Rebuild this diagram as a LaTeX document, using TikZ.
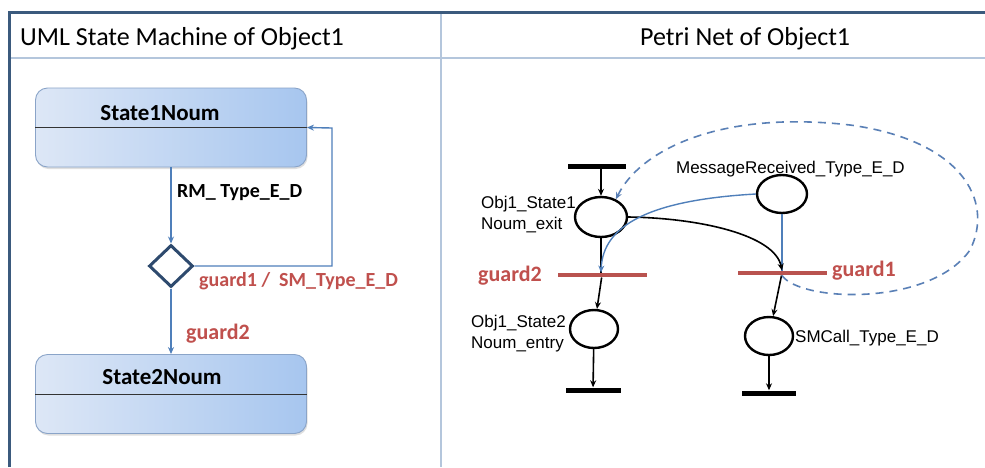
\documentclass[tikz,border=0pt]{standalone}
\usepackage{fontspec}
\setmainfont{Carlito}
\newfontfamily\arialf{Liberation Sans}
\usetikzlibrary{arrows.meta,shapes.geometric,shadows}
\definecolor{tblblue}{HTML}{3B5A7D}
\definecolor{tblgrid}{HTML}{B4C6DC}
\definecolor{boxleft}{HTML}{DDE7F6}
\definecolor{boxright}{HTML}{A7C6EF}
\definecolor{boxborder}{HTML}{8AA4C8}
\definecolor{umlblue}{HTML}{4F7FBA}
\definecolor{diadark}{HTML}{2E4A6E}
\definecolor{guardred}{HTML}{C0504D}
\definecolor{barred}{HTML}{B9534F}
\definecolor{dashblue}{HTML}{5A80B6}
\begin{document}
\begin{tikzpicture}[x=1pt,y=-1pt,
  title/.style={font=\fontsize{26}{30}\selectfont, inner sep=0pt},
  statebox/.style={draw=boxborder, line width=0.9pt, rounded corners=12pt,
    minimum width=271pt, minimum height=79pt, inner sep=0pt,
    left color=boxleft, right color=boxright,
    drop shadow={opacity=0.25, shadow xshift=1pt, shadow yshift=-2pt}},
  statename/.style={font=\bfseries\fontsize{23}{27}\selectfont, inner sep=0pt, anchor=base},
  umlarrow/.style={draw=umlblue, line width=1.4pt, -{Stealth[length=7pt,width=6pt]}},
  umlline/.style={draw=umlblue, line width=1.4pt},
  evlabel/.style={font=\bfseries\fontsize{20}{24}\selectfont, inner sep=0pt, anchor=base west},
  redlabel/.style={font=\bfseries\fontsize{22}{26}\selectfont, text=guardred, inner sep=0pt, anchor=base west},
  place/.style={draw=black, line width=2.4pt, ellipse, inner sep=0pt, fill=white},
  blackbar/.style={fill=black, inner sep=0pt, minimum height=5pt},
  redbar/.style={fill=barred, inner sep=0pt, minimum height=4.5pt},
  pnlabel/.style={font=\arialf\fontsize{17}{21}\selectfont, inner sep=0pt},
  pnarrow/.style={draw=black, line width=1.6pt, -{Stealth[length=7pt,width=6pt]}},
  pnline/.style={draw=black, line width=1.6pt},
  bluearrow/.style={draw=umlblue, line width=1.4pt, -{Stealth[length=7pt,width=6pt]}},
  blueline/.style={draw=umlblue, line width=1.4pt},
  dashloop/.style={draw=dashblue, line width=1.6pt, dash pattern=on 8pt off 6pt, -{Stealth[length=7pt,width=6pt]}}
]
\useasboundingbox (0,0) rectangle (985,467);
\fill[white] (0,0) rectangle (985,467);

% table
\draw[tblgrid, line width=1.2pt] (9,58) -- (985,58);
\draw[tblgrid, line width=1.2pt] (441,12) -- (441,467);
\draw[tblblue, line width=3pt] (9,467) -- (9,12) -- (985,12);

\node[title, anchor=base west] (t1) at (20,45) {UML State Machine of Object1};
\node[title, anchor=base west] (t2) at (640,45) {Petri Net of Object1};

% UML state machine
\node[statebox] (s1) at (171,127.5) {};
\draw[black!80, line width=1pt] (s1.west) -- (s1.east);
\node[statename] (s1t) at (160,120) {State1Noum};

\node[statebox] (s2) at (171,394) {};
\draw[black!80, line width=1pt] (s2.west) -- (s2.east);
\node[statename] (s2t) at (162,384) {State2Noum};

\node[diamond, draw=diadark, line width=3pt, fill=white, minimum width=44pt, minimum height=42pt, inner sep=0pt] (d) at (171,266) {};

\draw[umlarrow] (s1.south) -- (d.north);
\draw[umlarrow] (d.south) -- (s2.north);
\coordinate (lp1) at (332,266);
\coordinate (lp2) at (332,128);
\draw[umlarrow] (d.east) -- (lp1) -- (lp2) -- (s1.east);

\node[evlabel] (ev1) at (177,197) {RM\_ Type\_E\_D};
\node[evlabel, text=guardred] (ev2) at (199,286) {guard1 /\ \ SM\_Type\_E\_D};
\node[redlabel] (ev3) at (186,339) {guard2};

% Petri net
\node[blackbar, minimum width=58pt] (T0) at (597,166.5) {};
\node[place, minimum width=52pt, minimum height=40pt] (P1) at (601,217) {};
\node[place, minimum width=50pt, minimum height=38pt] (P2) at (782,194) {};
\node[redbar, minimum width=89pt] (G2) at (602,275) {};
\node[redbar, minimum width=89pt] (G1) at (782,273) {};
\node[place, minimum width=48pt, minimum height=38pt] (P3) at (594,329) {};
\node[place, minimum width=48pt, minimum height=38pt] (P4) at (769,336) {};
\node[blackbar, minimum width=55pt] (B1) at (593,390) {};
\node[blackbar, minimum width=54pt] (B2) at (769,393) {};

\draw[pnarrow] (T0.south -| P1.north) -- (P1.north);
\draw[pnline] (P1.south) -- (P1.south |- G2.north);
\draw[pnarrow] (G2) -- (P3);
\draw[pnarrow] (P3) -- (B1);
\draw[pnarrow] (G1) -- (P4);
\draw[pnarrow] (P4) -- (B2);
\draw[blueline] (P2) -- (G1);
\draw[pnarrow] (P1.east) .. controls (700,218) and (775,235) .. (G1.north);
\draw[bluearrow] (P2.west) .. controls (650,200) and (603,225) .. (P1.south |- G2.north);
\draw[dashloop] (G1.south) .. controls (800,302) and (930,307) .. (970,250)
   .. controls (995,200) and (960,140) .. (850,125)
   .. controls (720,110) and (640,150) .. (P1.50);

\node[pnlabel, anchor=north west, align=left] (l1) at (481,196) {Obj1\_State1\\Noum\_exit};
\node[pnlabel, anchor=north west, align=left] (l3) at (471,315) {Obj1\_State2\\Noum\_entry};
\node[pnlabel, anchor=base east] (l2) at (905,173) {MessageReceived\_Type\_E\_D};
\node[pnlabel, anchor=base west] (l4) at (795,342) {SMCall\_Type\_E\_D};
\node[redlabel] (g2l) at (478,281) {guard2};
\node[redlabel] (g1l) at (832,276) {guard1};
\end{tikzpicture}
\end{document}
